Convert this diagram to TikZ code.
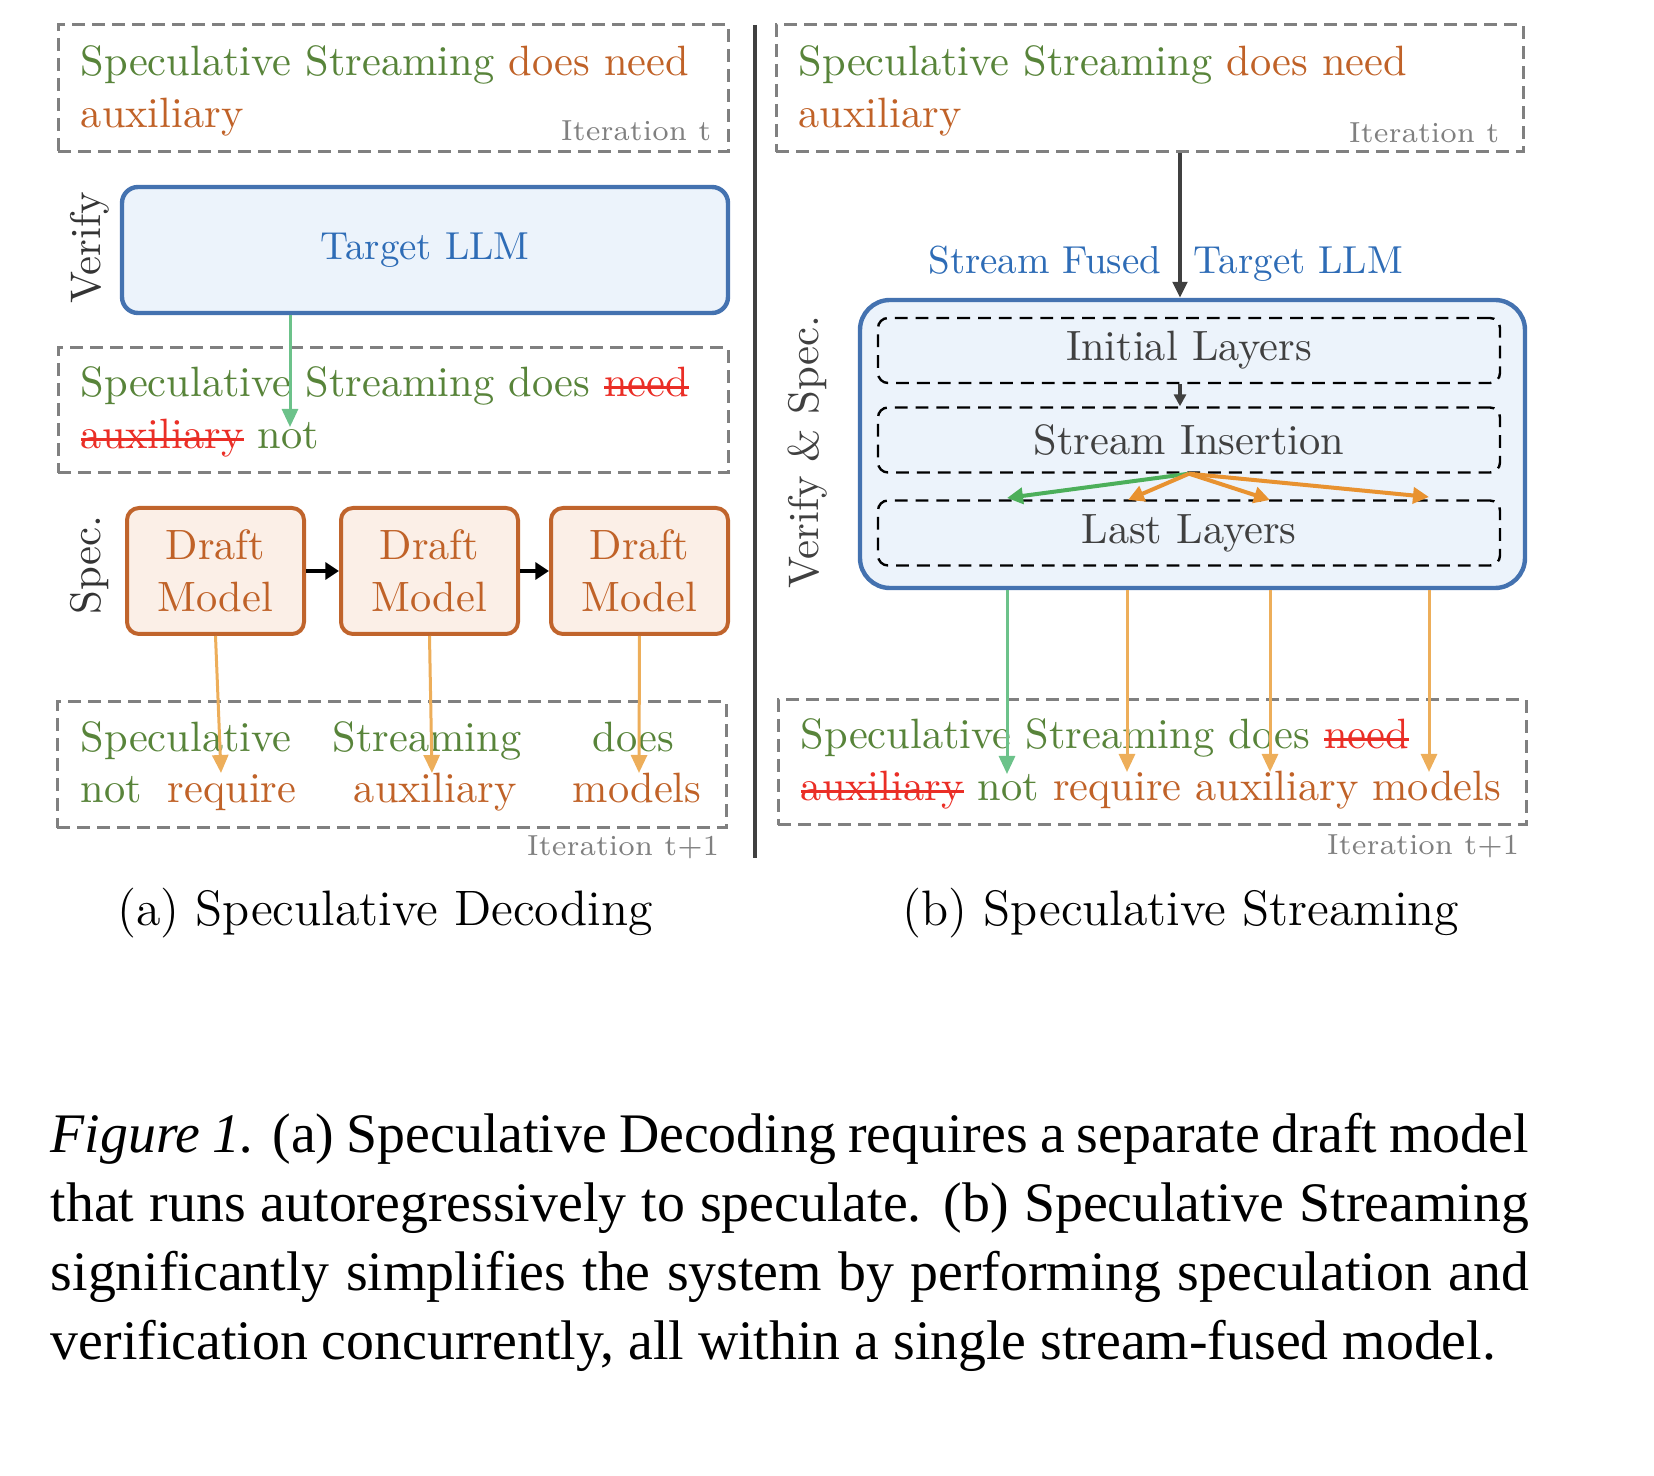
\documentclass[tikz,border=0pt]{standalone}
\usepackage{amsmath}
\usepackage{xcolor}
\usepackage{fontspec}
\usetikzlibrary{arrows.meta}
\newfontfamily\captionserif{Liberation Serif}

\definecolor{wordgreen}{RGB}{88,132,58}
\definecolor{wordbrown}{RGB}{192,98,40}
\definecolor{strikered}{RGB}{234,46,38}
\definecolor{boxgray}{RGB}{128,128,128}
\definecolor{sidegray}{RGB}{52,52,52}
\definecolor{layergray}{RGB}{64,64,64}
\definecolor{llmblue}{RGB}{68,114,176}
\definecolor{llmtext}{RGB}{46,108,182}
\definecolor{llmfill}{RGB}{236,243,251}
\definecolor{draftline}{RGB}{192,100,44}
\definecolor{draftfill}{RGB}{251,239,231}
\definecolor{arrowgreen}{RGB}{108,194,138}
\definecolor{arroworange}{RGB}{237,174,90}
\definecolor{fangreen}{RGB}{76,175,90}
\definecolor{fanorange}{RGB}{232,146,48}
\definecolor{darkline}{RGB}{64,64,64}

\newcommand{\grn}[1]{\textcolor{wordgreen}{#1}}
\newcommand{\brn}[1]{\textcolor{wordbrown}{#1}}
\newsavebox{\strkbox}
\newcommand{\strk}[1]{\sbox{\strkbox}{\textcolor{strikered}{#1}}%
  \textcolor{strikered}{\rlap{\rule[0.2em]{\wd\strkbox}{0.7pt}}}\usebox{\strkbox}}
\newcommand{\boxfont}{\fontsize{10.6pt}{13pt}\selectfont}
\newcommand{\pxu}{0.25pt}

\begin{document}
\begin{tikzpicture}[x=\pxu,y=-\pxu,
  itbox/.style={draw=boxgray, line width=0.75pt, dash pattern=on 3.2pt off 1.8pt},
  itlabel/.style={text=boxgray, font=\fontsize{7.25pt}{9pt}\selectfont},
  sidelabel/.style={text=sidegray, font=\fontsize{10.7pt}{13pt}\selectfont, rotate=90},
  word/.style={anchor=base west, font=\boxfont},
  llmbox/.style={draw=llmblue, fill=llmfill, line width=1.1pt, text=llmtext,
    font=\fontsize{9.75pt}{12pt}\selectfont},
  draftbox/.style={draw=draftline, fill=draftfill, line width=1pt, rounded corners=3pt,
    text=wordbrown, align=center, font=\boxfont, minimum width=177*\pxu, minimum height=126*\pxu},
  layerbox/.style={draw=black, line width=0.6pt, dash pattern=on 3.2pt off 2pt,
    rounded corners=2.5pt, text=layergray, font=\boxfont, minimum width=622*\pxu, minimum height=65*\pxu},
  greenarrow/.style={draw=arrowgreen, line width=0.75pt, -{Triangle[length=4.5pt,width=4pt]}},
  orangearrow/.style={draw=arroworange, line width=0.75pt, -{Triangle[length=4.5pt,width=4pt]}},
  chainarrow/.style={draw=black, line width=1.2pt, -{Triangle[length=3.4pt,width=4.2pt]}},
  darkarrow/.style={draw=darkline, line width=0.9pt, -{Triangle[length=4pt,width=3.6pt]}},
  fanarrow/.style={line width=1pt, -{Triangle[length=4pt,width=4pt]}}]
\tikzstyle{every node}+=[inner sep=0pt]
\useasboundingbox (0,0) rectangle (1654,1476);

% (a) speculative decoding
\node[itbox, minimum width=670*\pxu, minimum height=127*\pxu] (atop) at (393,88.5) {};
\node[word] (a1) at (80,76) {\grn{Speculative Streaming} \brn{does need}};
\node[word] (a2) at (80,128) {\brn{auxiliary}};
\node[itlabel, anchor=base east] (ait) at (712,141) {Iteration t};

\node[sidelabel] (verify) at (90,248) {Verify};
\node[llmbox, rounded corners=4pt, minimum width=606*\pxu, minimum height=126*\pxu] (llm) at (425,250) {Target LLM};

\node[itbox, minimum width=670*\pxu, minimum height=125*\pxu] (amid) at (393,410.5) {};
\node[word] (b1) at (80,397) {\grn{Speculative Streaming does} \strk{need}};
\node[word] (b2) at (80,449) {\strk{auxiliary} \grn{not}};
\coordinate (bnot) at (290,427);
\draw[greenarrow] (llm.south -| bnot) -- (bnot);

\node[sidelabel] (spec) at (90,565) {Spec.};
\node[draftbox] (d1) at (215.5,571) {Draft\\Model};
\node[draftbox] (d2) at (429.5,571) {Draft\\Model};
\node[draftbox] (d3) at (639.5,571) {Draft\\Model};
\draw[chainarrow] (d1) -- (d2);
\draw[chainarrow] (d2) -- (d3);

\node[itbox, minimum width=669*\pxu, minimum height=126*\pxu] (abot) at (391.5,765) {};
\node[word] (w1) at (80,752) {\grn{Speculative}};
\node[word] (w2) at (332,752) {\grn{Streaming}};
\node[word] (w3) at (592,752) {\grn{does}};
\node[word] (w4) at (80,803) {\grn{not}};
\node[word] (w5) at (167,803) {\brn{require}};
\node[word] (w6) at (353,803) {\brn{auxiliary}};
\node[word] (w7) at (572,803) {\brn{models}};
\coordinate (c1) at (221,773);
\coordinate (c2) at (432,773);
\coordinate (c3) at (639,773);
\draw[orangearrow] (d1.south) -- (c1);
\draw[orangearrow] (d2.south) -- (c2);
\draw[orangearrow] (d3.south) -- (c3);
\node[itlabel, anchor=base east] (ait2) at (720,856) {Iteration t+1};

\node[font=\fontsize{12.45pt}{14pt}\selectfont, anchor=base] (capa) at (385,926) {(a) Speculative Decoding};

% divider
\draw[draw=darkline, line width=1pt] (755,25) -- (755,858);

% (b) speculative streaming
\node[itbox, minimum width=747*\pxu, minimum height=127*\pxu] (btop) at (1149.5,88.5) {};
\node[word] (e1) at (798,76) {\grn{Speculative Streaming} \brn{does need}};
\node[word] (e2) at (798,128) {\brn{auxiliary}};
\node[itlabel, anchor=base east] (bit) at (1500,143) {Iteration t};

\node[text=llmtext, font=\fontsize{9.75pt}{12pt}\selectfont, anchor=base east] (sf) at (1162,274) {Stream Fused};
\node[text=llmtext, font=\fontsize{9.75pt}{12pt}\selectfont, anchor=base west] (tl) at (1193,274) {Target LLM};
\node[llmbox, rounded corners=7.5pt, minimum width=665*\pxu, minimum height=288*\pxu] (fused) at (1192.5,444) {};
\node[sidelabel, text=layergray] (vs) at (808,452) {Verify \& Spec.};

\node[layerbox] (init) at (1189,350.5) {Initial Layers};
\node[layerbox] (ins) at (1189,440) {Stream Insertion};
\node[layerbox] (last) at (1189,533) {Last Layers};

\coordinate (axis) at (1180,0);
\draw[darkarrow] (btop.south -| axis) -- (fused.north -| axis);
\draw[darkarrow, -{Triangle[length=3pt,width=3pt]}] (init.south -| axis) -- (ins.north -| axis);

\coordinate (f1) at (1007,498);
\coordinate (f2) at (1128,500);
\coordinate (f3) at (1270,500);
\coordinate (f4) at (1429,497);
\draw[fanarrow, draw=fangreen] (ins.south) -- (f1);
\draw[fanarrow, draw=fanorange] (ins.south) -- (f2);
\draw[fanarrow, draw=fanorange] (ins.south) -- (f3);
\draw[fanarrow, draw=fanorange] (ins.south) -- (f4);

\node[itbox, minimum width=748*\pxu, minimum height=125*\pxu] (bbot) at (1152,762.5) {};
\node[word] (g1) at (800,749) {\grn{Speculative Streaming does} \strk{need}};
\node[word] (g2) at (800,801) {\strk{auxiliary} \grn{not} \brn{require auxiliary models}};
\coordinate (h1) at (1007,774);
\coordinate (h2) at (1127,772);
\coordinate (h3) at (1270,772);
\coordinate (h4) at (1429,772);
\draw[greenarrow] (fused.south -| h1) -- (h1);
\draw[orangearrow] (fused.south -| h2) -- (h2);
\draw[orangearrow] (fused.south -| h3) -- (h3);
\draw[orangearrow] (fused.south -| h4) -- (h4);
\node[itlabel, anchor=base east] (bit2) at (1520,855) {Iteration t+1};

\node[font=\fontsize{12.45pt}{14pt}\selectfont, anchor=base] (capb) at (1181,926) {(b) Speculative Streaming};

% figure caption
\node[anchor=base west] (caption) at (50,1153) {\parbox[t]{369.5pt}{\captionserif\fontsize{13.95pt}{17.2pt}\selectfont
  \hyphenpenalty=10000 \emergencystretch=2em
  \textit{Figure 1.} (a) Speculative Decoding requires a separate draft model\linebreak
  that runs autoregressively to speculate. (b) Speculative Streaming\linebreak
  significantly simplifies the system by performing speculation and\linebreak
  verification concurrently, all within a single stream-fused model.}};
\end{tikzpicture}
\end{document}
